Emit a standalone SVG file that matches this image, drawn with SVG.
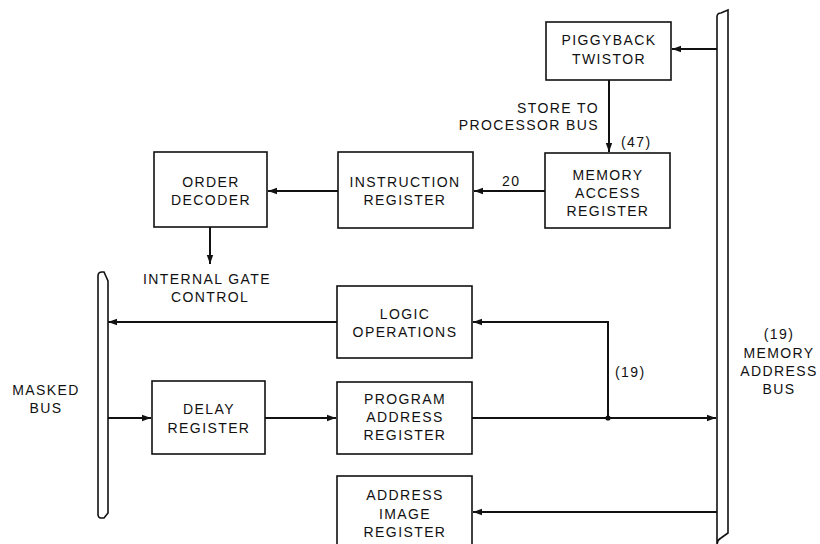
<svg xmlns="http://www.w3.org/2000/svg" width="820" height="544" viewBox="0 0 820 544">
<defs>
<marker id="ah" markerWidth="10" markerHeight="8" refX="9" refY="4" orient="auto" markerUnits="userSpaceOnUse">
<path d="M0,0.8 L9,4 L0,7.2 Z" fill="#111"/>
</marker>
<style>
.box{fill:#fff;stroke:#111;stroke-width:1.6}
.bus{fill:#fff;stroke:#111;stroke-width:1.6}
.c{fill:none;stroke:#111;stroke-width:2}
text{font-family:"Liberation Sans",Arial,sans-serif;font-size:14px;fill:#111;letter-spacing:1.4px}
.m{text-anchor:middle}
.e{text-anchor:end}
</style>
</defs>
<rect width="820" height="544" fill="#fff"/>

<g id="memory-address-bus">
<path class="bus" d="M717,546 L717,17 Q717,13 721,13 L728,10 L728,533 L721,538 Q717,540 717,546 Z"/>
<text class="m" x="779" y="339">(19)</text>
<text class="m" x="779" y="358">MEMORY</text>
<text class="m" x="779" y="376">ADDRESS</text>
<text class="m" x="779" y="394">BUS</text>
</g>

<g id="masked-bus">
<path class="bus" d="M98,276 Q98,272 102,272 L104,272 L108,281 L108,513 L104,518 L101,518 Q98,518 98,514 Z"/>
<text class="m" x="46" y="395">MASKED</text>
<text class="m" x="46" y="413">BUS</text>
</g>

<g id="piggyback-twistor">
<rect class="box" x="546" y="22" width="125" height="58"/>
<text class="m" x="609" y="45">PIGGYBACK</text>
<text class="m" x="609" y="64">TWISTOR</text>
</g>

<g id="memory-access-register">
<rect class="box" x="545" y="153" width="125" height="75"/>
<text class="m" x="608" y="180">MEMORY</text>
<text class="m" x="608" y="198">ACCESS</text>
<text class="m" x="608" y="216">REGISTER</text>
</g>

<g id="instruction-register">
<rect class="box" x="338" y="152" width="135" height="76"/>
<text class="m" x="405" y="187">INSTRUCTION</text>
<text class="m" x="405" y="205">REGISTER</text>
</g>

<g id="order-decoder">
<rect class="box" x="154" y="152" width="113" height="75"/>
<text class="m" x="211" y="187">ORDER</text>
<text class="m" x="211" y="205">DECODER</text>
</g>

<g id="logic-operations">
<rect class="box" x="337" y="286" width="135" height="72"/>
<text class="m" x="405" y="319">LOGIC</text>
<text class="m" x="405" y="337">OPERATIONS</text>
</g>

<g id="delay-register">
<rect class="box" x="152" y="381" width="113" height="73"/>
<text class="m" x="209" y="414">DELAY</text>
<text class="m" x="209" y="433">REGISTER</text>
</g>

<g id="program-address-register">
<rect class="box" x="337" y="382" width="135" height="72"/>
<text class="m" x="405" y="404">PROGRAM</text>
<text class="m" x="405" y="422">ADDRESS</text>
<text class="m" x="405" y="440">REGISTER</text>
</g>

<g id="address-image-register">
<rect class="box" x="337" y="476" width="135" height="72"/>
<text class="m" x="405" y="500">ADDRESS</text>
<text class="m" x="405" y="519">IMAGE</text>
<text class="m" x="405" y="537">REGISTER</text>
</g>

<g id="connectors">
<line class="c" x1="717" y1="49" x2="672" y2="49" marker-end="url(#ah)"/>
<line class="c" x1="609" y1="80" x2="609" y2="152" marker-end="url(#ah)"/>
<line class="c" x1="545" y1="191" x2="474" y2="191" marker-end="url(#ah)"/>
<line class="c" x1="338" y1="191" x2="268" y2="191" marker-end="url(#ah)"/>
<line class="c" x1="210" y1="227" x2="210" y2="264" marker-end="url(#ah)"/>
<line class="c" x1="337" y1="322" x2="108" y2="322" marker-end="url(#ah)"/>
<line class="c" x1="108" y1="418" x2="151" y2="418" marker-end="url(#ah)"/>
<line class="c" x1="265" y1="418" x2="336" y2="418" marker-end="url(#ah)"/>
<line class="c" x1="472" y1="418" x2="716" y2="418" marker-end="url(#ah)"/>
<polyline class="c" points="608,418 608,322 473,322" marker-end="url(#ah)"/>
<circle cx="608" cy="418" r="2.6" fill="#111"/>
<line class="c" x1="717" y1="512" x2="473" y2="512" marker-end="url(#ah)"/>
<text class="e" x="599" y="113">STORE TO</text>
<text class="e" x="599" y="130">PROCESSOR BUS</text>
<text x="621" y="147">(47)</text>
<text x="502" y="186">20</text>
<text x="615" y="377">(19)</text>
<text class="m" x="207" y="284">INTERNAL GATE</text>
<text class="m" x="210" y="302">CONTROL</text>
</g>
</svg>
